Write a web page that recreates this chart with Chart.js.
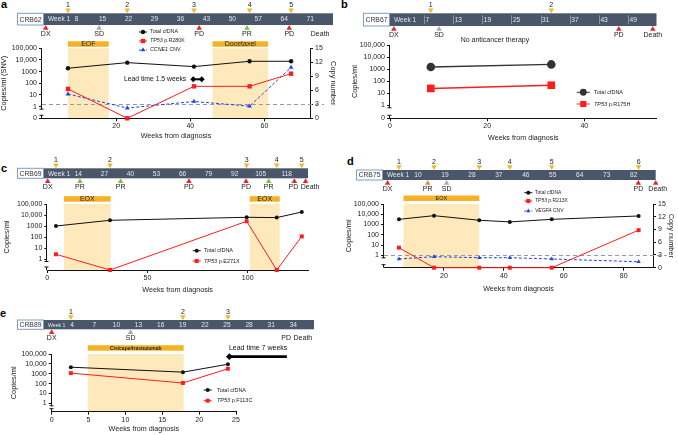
<!DOCTYPE html>
<html>
<head>
<meta charset="utf-8">
<script src="https://cdn.jsdelivr.net/npm/chart.js@4/dist/chart.umd.min.js"></script>
<style>
  html, body { margin: 0; padding: 0; background: #fff; }
  body { width: 678px; height: 435px; position: relative; overflow: hidden; font-family: "Liberation Sans", Arial, sans-serif; }
  canvas { position: absolute; }
  .tag { position: absolute; font-weight: bold; font-size: 11px; line-height: 11px; color: #000; }
</style>
</head>
<body>
<div class="tag" style="left:1px;top:-1px">a</div>
<div class="tag" style="left:341px;top:-1px">b</div>
<div class="tag" style="left:1px;top:163px">c</div>
<div class="tag" style="left:347px;top:156px">d</div>
<div class="tag" style="left:0px;top:308px">e</div>
<script>
const FONT = '"Liberation Sans", Arial, Helvetica, sans-serif';
Chart.defaults.font.family = FONT;
Chart.defaults.font.size = 7;
Chart.defaults.color = '#222';

// shared axis ticks
const logTickValues = [1, 10, 100, 1000, 10000, 100000];
const logTickLabels = ['1', '10', '100', '1000', '10,000', '100,000'];
const copyTicks = [0, 3, 6, 9, 12, 15];

// a - CRB62
const aPatient = 'CRB62';
const aWeeks = [7, 23, 41, 56, 67.2];
const aTotal = [1950, 5900, 2700, 7700, 7700];
const aTp53 = [33, 0, 55, 55, 670];
const aCcne1 = [5.2, 2.2, 3.6, 2.6, 10.9];
const aEventWeeks = [1, 15.4, 42.4, 55.3, 66.7, 74.5];
const aEventLabels = ['DX', 'SD', 'PD', 'PR', 'PD', 'Death'];
const aWeekMarks = [8, 15, 22, 29, 36, 43, 50, 57, 64, 71];
const aTherapy = ['EOF', 'Docetaxel'];
const aTherapyStart = [7, 46];
const aTherapyEnd = [18, 61];
const aLeadWeeks = [40.8, 43.1];
const aLeadLevel = 220;
const aXTicks = [20, 40, 60];

// b - CRB67
const bPatient = 'CRB67';
const bWeeks = [8.4, 33.2];
const bTotal = [1500, 2450];
const bTp53 = [25, 46];
const bEventWeeks = [0.8, 10.1, 47.1, 54.1];
const bEventLabels = ['DX', 'SD', 'PD', 'Death'];
const bWeekMarks = [7, 13, 19, 25, 31, 37, 43, 49];
const bXTicks = [0, 20, 40];

// c - CRB69
const cPatient = 'CRB69';
const cWeeks = [4.3, 31.3, 99.5, 114.5, 127];
const cTotal = [1000, 3300, 6200, 5800, 18700];
const cTp53 = [2.7, 0, 2700, 0, 113];
const cEventWeeks = [0.2, 16.3, 36.6, 70.7, 99.2, 110.5, 123.3, 128.9];
const cEventLabels = ['DX', 'PR', 'PR', 'PD', 'PD', 'PR', 'PD', 'Death'];
const cWeekMarks = [14, 27, 40, 53, 66, 79, 92, 105, 118];
const cTherapy = ['EOX', 'EOX'];
const cTherapyStart = [8.3, 101];
const cTherapyEnd = [31.6, 116];
const cXTicks = [0, 50, 100];

// d - CRB75
const dPatient = 'CRB75';
const dWeeks = [5, 16.7, 31.8, 42, 56, 85];
const dTotal = [3200, 7300, 2600, 1800, 3200, 6800];
const dTp53 = [5.5, 0, 0, 0, 0, 280];
const dVegfa = [2.05, 2.6, 2.35, 2.35, 2.05, 1.4];
const dEventWeeks = [1.2, 14.6, 20.9, 84.9, 90.7];
const dEventLabels = ['DX', 'PR', 'SD', 'PD', 'Death'];
const dWeekMarks = [10, 19, 28, 37, 46, 55, 64, 73, 82];
const dTherapy = ['EOX'];
const dTherapyStart = [6.5];
const dTherapyEnd = [31.8];
const dXTicks = [20, 40, 60, 80];

// e - CRB89
const ePatient = 'CRB89';
const eWeeks = [2.6, 17.8, 23.9];
const eTotal = [4600, 1450, 9100];
const eTp53 = [1150, 115, 3200];
const eEventWeeks = [0, 10.7, 32, 33.8];
const eEventLabels = ['DX', 'SD', 'PD', 'Death'];
const eWeekMarks = [4, 7, 10, 13, 16, 19, 22, 25, 28, 31, 34];
const eTherapy = ['Cis/cape/trastuzumab'];
const eTherapyStart = [4.9];
const eTherapyEnd = [17.9];
const eLeadWeeks = [24.1, 31.9];
const eLeadLevel = 54000;
const eXTicks = [0, 5, 10, 15, 20, 25];

// series styles
const BLACK = '#111', RED = '#ff1c1c', BLUE = '#2040ee';
const totalStyle = { name: ['', 'Total cfDNA'], color: BLACK, pointStyle: 'circle', radius: 2.2 };
const tp53Style = { color: RED, pointStyle: 'rect', radius: 3.1 };
const cnvStyle = { color: BLUE, pointStyle: 'triangle', radius: 2.7, dash: [3, 2], axis: 'y2' };

const panels = [
  {
    box: { x: 0, y: 26, w: 340, h: 116 }, area: { l: 42, t: 48.3, r: 310, b: 118.3 },
    xMax: 72.3, zero: -1, zeroLabel: true, xTicks: aXTicks,
    yTitle: 'Copies/ml (SNV)', yTitlePad: 0, y2Title: 'Copy number', y2TitlePad: 2.8, xTitlePad: 1.8,
    series: [
      { ...totalStyle, weeks: aWeeks, values: aTotal },
      { ...tp53Style, name: ['TP53', ' p.R280K'], weeks: aWeeks, values: aTp53 },
      { ...cnvStyle, name: ['CCNE1', ' CNV'], weeks: aWeeks, values: aCcne1 }
    ],
    therapy: { names: aTherapy, start: aTherapyStart, end: aTherapyEnd, size: 7, gap: 1.5 },
    lead: { weeks: aLeadWeeks, level: aLeadLevel, text: 'Lead time 1.5 weeks', align: 'right', dx: -4, dy: 0, size: 6.8, width: 2, radius: 3 },
    cnLine: 3,
    legend: { x: 143, tx: 150, ys: [32, 41, 50], half: 4, size: 5.3, scale: 1 },
    tl: { y0: 0, h: 42, barTop: 13.3, barBottom: 25, barLeft: 17, barRight: 333, patient: aPatient,
          marks: aWeekMarks, markDx: 5, samples: aWeeks, events: aEventWeeks, labels: aEventLabels,
          labelDx: [0, 0, 0, 0, 0, 2] }
  },
  {
    box: { x: 340, y: 36, w: 338, h: 107 }, area: { l: 390, t: 45, r: 656.7, b: 118.3 },
    xMax: 54.9, zero: -1.08, zeroLabel: true, xTicks: bXTicks,
    yTitle: 'Copies/ml', yTitlePad: 10.8, xTitlePad: 0.8,
    series: [
      { ...totalStyle, color: '#333', radius: 4.3, width: 1.4, weeks: bWeeks, values: bTotal },
      { ...tp53Style, name: ['TP53', ' p.R175H'], radius: 5.4, width: 1.4, weeks: bWeeks, values: bTp53 }
    ],
    note: { text: 'No anticancer therapy', week: 21.6, y: 40, size: 7 },
    legend: { x: 583.3, tx: 594, ys: [92.3, 104], half: 6.5, size: 5.5, scale: 0.8 },
    tl: { y0: 0, h: 42, barTop: 13.3, barBottom: 26, barLeft: 363, barRight: 656.5, patient: bPatient,
          marks: bWeekMarks, markDx: 1.5, tickMarks: true, samples: bWeeks, events: bEventWeeks, labels: bEventLabels }
  },
  {
    box: { x: 0, y: 190, w: 340, h: 105 }, area: { l: 47.3, t: 204, r: 308, b: 270 },
    xMax: 130.1, zero: -1, zeroLabel: false, xTicks: cXTicks,
    yTitle: 'Copies/ml', yTitlePad: 2.8, xTitlePad: 0.8,
    series: [
      { ...totalStyle, radius: 2, weeks: cWeeks, values: cTotal },
      { ...tp53Style, name: ['TP53', ' p.E271X'], radius: 2.8, weeks: cWeeks, values: cTp53 }
    ],
    therapy: { names: cTherapy, start: cTherapyStart, end: cTherapyEnd, size: 7, gap: 2.3 },
    legend: { x: 196.7, tx: 204, ys: [250.7, 261], half: 4, size: 5.5, scale: 1 },
    tl: { y0: 150, h: 45, barTop: 168.3, barBottom: 178.3, barLeft: 17, barRight: 308, patient: cPatient,
          marks: cWeekMarks, markDx: 3, samples: cWeeks, events: cEventWeeks, labels: cEventLabels,
          labelDx: [0, 0, 0, 0, 0, 0, -1, 4.5] }
  },
  {
    box: { x: 340, y: 186, w: 338, h: 109 }, area: { l: 384, t: 204, r: 653, b: 267.7 },
    xMax: 89.8, zero: -1.21, zeroLabel: false, xTicks: dXTicks,
    yTitle: 'Copies/ml', yTitlePad: 4.8, y2Title: 'Copy number', y2TitlePad: 2.1, xTitlePad: 1.8,
    series: [
      { ...totalStyle, radius: 2, weeks: dWeeks, values: dTotal },
      { ...tp53Style, name: ['TP53', ' p.R213X'], radius: 2.8, weeks: dWeeks, values: dTp53 },
      { ...cnvStyle, name: ['VEGFA', ' CNV'], radius: 2.5, weeks: dWeeks, values: dVegfa }
    ],
    therapy: { names: dTherapy, start: dTherapyStart, end: dTherapyEnd, size: 5.5, gap: 3 },
    cnLine: 3,
    legend: { x: 528.3, tx: 535, ys: [192.7, 201, 211], half: 4, size: 5, scale: 1 },
    tl: { y0: 150, h: 45, barTop: 170, barBottom: 180, barLeft: 356, barRight: 655.7, patient: dPatient,
          marks: dWeekMarks, markDx: 4, prColor: '#f08a3a', samples: dWeeks, events: dEventWeeks, labels: dEventLabels,
          labelDx: [0, 0, 0, 0, 2] }
  },
  {
    box: { x: 0, y: 340, w: 340, h: 95 }, area: { l: 51.7, t: 354, r: 236, b: 411.7 },
    xMax: 25, zero: -0.85, zeroLabel: false, xTicks: eXTicks,
    yTitle: 'Copies/ml', yTitlePad: 9.8, xTitlePad: 1.8,
    series: [
      { ...totalStyle, radius: 2, weeks: eWeeks, values: eTotal },
      { ...tp53Style, name: ['TP53', ' p.F113C'], radius: 2.8, weeks: eWeeks, values: eTp53 }
    ],
    therapy: { names: eTherapy, start: eTherapyStart, end: eTherapyEnd, size: 5, gap: 3.3, bold: true },
    lead: { weeks: eLeadWeeks, level: eLeadLevel, text: 'Lead time 7 weeks', align: 'center', dx: 0, dy: -8.4, size: 7, width: 2.6, radius: 3.4 },
    legend: { x: 207.7, tx: 217, ys: [390, 400.7], half: 4, size: 5.5, scale: 1 },
    tl: { y0: 300, h: 45, barTop: 320, barBottom: 329.3, barLeft: 17, barRight: 314, patient: ePatient,
          marks: eWeekMarks, markDx: -9, weekSize: 5.2, samples: eWeeks, events: eEventWeeks, labels: eEventLabels,
          labelDx: [0, 0, -1.5, 2] }
  }
];

function addCanvas(b) {
  const c = document.createElement('canvas');
  c.width = b.w; c.height = b.h;
  c.style.left = b.x + 'px'; c.style.top = b.y + 'px';
  c.style.width = b.w + 'px'; c.style.height = b.h + 'px';
  document.body.appendChild(c);
  return c;
}

function drawMark(ctx, style, r, x, y) {
  ctx.beginPath();
  if (style === 'circle') ctx.arc(x, y, r, 0, Math.PI * 2);
  else if (style === 'rect') { const s = r * Math.SQRT1_2; ctx.rect(x - s, y - s, 2 * s, 2 * s); }
  else if (style === 'triangle') { ctx.moveTo(x, y - r); ctx.lineTo(x + r * 0.866, y + r / 2); ctx.lineTo(x - r * 0.866, y + r / 2); ctx.closePath(); }
  ctx.fill();
}

// ---------- timeline strip ----------
function timelineChart(P) {
  const T = P.tl;
  const box = { x: P.box.x, y: T.y0, w: P.box.w, h: T.h };
  const r = 3.2;
  const sampleY = T.barTop - r, eventY = T.barBottom + r;
  const evColor = lab => lab === 'SD' ? '#a9abae' : lab === 'PR' ? (T.prColor || '#7dc243') : '#e8242c';

  const strip = {
    id: 'strip',
    beforeDatasetsDraw(chart) {
      const { ctx, scales: { x } } = chart;
      const top = T.barTop - box.y, bot = T.barBottom - box.y, mid = (top + bot) / 2;
      const xs = T.barLeft - box.x, xe = T.barRight - box.x;
      ctx.save();
      ctx.fillStyle = '#4a566a';
      ctx.fillRect(xs, top, xe - xs, bot - top);
      ctx.fillStyle = '#fff';
      ctx.fillRect(xs, top - 0.5, 27, bot - top + 1);
      ctx.strokeStyle = '#7f9ec6'; ctx.lineWidth = 1;
      ctx.strokeRect(xs + 0.5, top, 26, bot - top);
      ctx.textBaseline = 'middle';
      ctx.textAlign = 'center';
      ctx.fillStyle = '#333';
      ctx.font = '6.8px ' + FONT;
      ctx.fillText(T.patient, xs + 13.5, mid + 0.5);
      ctx.fillStyle = '#e3e7ee';
      ctx.textAlign = 'left';
      ctx.font = (T.weekSize || 6.6) + 'px ' + FONT;
      ctx.fillText('Week 1', xs + 31, mid + 0.5);
      ctx.font = '6.6px ' + FONT;
      T.marks.forEach(w => {
        const px = x.getPixelForValue(w);
        if (T.tickMarks) {
          ctx.fillStyle = '#9aa3b0';
          ctx.fillRect(Math.round(px), top + 2, 0.8, bot - top - 4);
          ctx.fillStyle = '#e3e7ee';
          ctx.textAlign = 'left';
          ctx.fillText(String(w), px + T.markDx, mid + 0.5);
        } else {
          ctx.textAlign = 'center';
          ctx.fillText(String(w), px + T.markDx, mid + 0.5);
        }
      });
      ctx.restore();
    },
    afterDatasetsDraw(chart) {
      const { ctx, scales: { x } } = chart;
      ctx.save();
      ctx.textAlign = 'center'; ctx.textBaseline = 'middle'; ctx.fillStyle = '#222';
      ctx.font = '7px ' + FONT;
      T.samples.forEach((w, i) => ctx.fillText(String(i + 1), x.getPixelForValue(w), T.barTop - 8 - box.y));
      ctx.font = '7px ' + FONT;
      T.events.forEach((w, i) => {
        const dx = T.labelDx ? T.labelDx[i] : 0;
        ctx.fillText(T.labels[i], x.getPixelForValue(w) + dx, T.barBottom + 8.7 - box.y);
      });
      ctx.restore();
    }
  };

  new Chart(addCanvas(box), {
    type: 'scatter',
    data: {
      datasets: [
        { data: T.samples.map(w => ({ x: w, y: 1 })), pointStyle: 'triangle', pointRotation: 180, pointRadius: r,
          pointBackgroundColor: '#f7b52a', pointBorderWidth: 0, clip: false },
        { data: T.events.map(w => ({ x: w, y: -1 })), pointStyle: 'triangle', pointRadius: r,
          pointBackgroundColor: T.labels.map(evColor), pointBorderWidth: 0, clip: false }
      ]
    },
    options: {
      responsive: false, animation: false, events: [],
      layout: { padding: { left: P.area.l - box.x, right: box.x + box.w - P.area.r, top: sampleY - box.y, bottom: box.y + box.h - eventY } },
      scales: {
        x: { type: 'linear', display: false, min: 0, max: P.xMax },
        y: { type: 'linear', display: false, min: -1, max: 1 }
      },
      plugins: { legend: { display: false }, tooltip: { enabled: false } }
    },
    plugins: [strip]
  });
}

// ---------- cfDNA plot ----------
function plotChart(P) {
  const toY = v => (v > 0 ? Math.log10(v) : P.zero);
  const yVals = (P.zeroLabel ? [P.zero] : []).concat(logTickValues.map(toY));
  const yLabs = (P.zeroLabel ? ['0'] : []).concat(logTickLabels);
  const B = P.box, A = P.area;

  const datasets = P.series.map(s => ({
    type: 'line',
    label: s.name.join(''),
    nameParts: s.name,
    legendMark: s.pointStyle,
    data: s.weeks.map((w, i) => ({ x: w, y: s.axis === 'y2' ? s.values[i] : toY(s.values[i]) })),
    yAxisID: s.axis || 'y',
    borderColor: s.color, backgroundColor: s.color,
    borderWidth: s.width || 1, borderDash: s.dash || [],
    pointStyle: s.pointStyle, pointRadius: s.radius,
    pointBackgroundColor: s.color, pointBorderWidth: 0,
    clip: false
  }));
  if (P.lead) {
    datasets.push({
      type: 'line', label: 'lead',
      data: P.lead.weeks.map(w => ({ x: w, y: toY(P.lead.level) })),
      yAxisID: 'y', borderColor: '#000', backgroundColor: '#000', borderWidth: P.lead.width,
      pointStyle: 'rectRot', pointRadius: P.lead.radius, pointBackgroundColor: '#000', pointBorderWidth: 0, clip: false
    });
  }

  const axisCol = '#111';
  const scales = {
    x: {
      type: 'linear', min: 0, max: P.xMax,
      border: { color: axisCol, width: 1 },
      grid: { drawOnChartArea: false, tickLength: 3, color: axisCol },
      ticks: { padding: 1, maxRotation: 0, autoSkip: false, color: '#222' },
      afterBuildTicks: s => { s.ticks = P.xTicks.map(v => ({ value: v })); },
      title: { display: true, text: 'Weeks from diagnosis', font: { size: 7.2 }, color: '#222', padding: { top: 0, bottom: P.xTitlePad } },
      afterFit: s => { s.height = B.y + B.h - A.b; s.paddingLeft = 0; s.paddingRight = 0; }
    },
    y: {
      type: 'linear', position: 'left', min: P.zero, max: 5,
      border: { display: false },
      grid: { drawOnChartArea: false, tickLength: 3, color: axisCol },
      ticks: { padding: 2, autoSkip: false, color: '#222', callback: (v, i) => yLabs[i] },
      afterBuildTicks: s => { s.ticks = yVals.map(v => ({ value: v })); },
      title: { display: true, text: P.yTitle, font: { size: 7.4 }, color: '#222', padding: { top: P.yTitlePad, bottom: 0 } },
      afterFit: s => { s.width = A.l - B.x; s.paddingTop = 0; s.paddingBottom = 0; }
    }
  };
  if (P.y2Title) {
    scales.y2 = {
      type: 'linear', position: 'right', min: 0, max: 15,
      border: { color: axisCol, width: 1 },
      grid: { drawOnChartArea: false, tickLength: 3, color: axisCol },
      ticks: { padding: 2, autoSkip: false, color: '#222' },
      afterBuildTicks: s => { s.ticks = copyTicks.map(v => ({ value: v })); },
      title: { display: true, text: P.y2Title, font: { size: 7.4 }, color: '#222', padding: { top: P.y2TitlePad, bottom: 0 } },
      afterFit: s => { s.width = B.x + B.w - A.r; s.paddingTop = 0; s.paddingBottom = 0; }
    };
  }

  const decor = {
    id: 'decor',
    beforeDraw(chart) {
      const { ctx, chartArea: ca, scales: { x } } = chart;
      if (!P.therapy) return;
      const th = P.therapy;
      ctx.save();
      th.names.forEach((name, i) => {
        const x0 = x.getPixelForValue(th.start[i]), x1 = x.getPixelForValue(th.end[i]);
        ctx.fillStyle = '#fde9bb';
        ctx.fillRect(x0, ca.top, x1 - x0, ca.bottom - ca.top);
        ctx.fillStyle = '#f6b224';
        ctx.fillRect(x0, ca.top - th.gap - 5.5, x1 - x0, 5.5);
        ctx.fillStyle = '#222';
        ctx.font = (th.bold ? 'bold ' : '') + th.size + 'px ' + FONT;
        ctx.textAlign = 'center'; ctx.textBaseline = 'middle';
        ctx.fillText(name, (x0 + x1) / 2, ca.top - th.gap - 2.5);
      });
      ctx.restore();
    },
    beforeDatasetsDraw(chart) {
      if (P.cnLine === undefined) return;
      const { ctx, chartArea: ca, scales: { y2 } } = chart;
      const yy = Math.round(y2.getPixelForValue(P.cnLine)) + 0.5;
      ctx.save();
      ctx.strokeStyle = '#9a9a9a'; ctx.lineWidth = 1; ctx.setLineDash([4, 3]);
      ctx.beginPath(); ctx.moveTo(ca.left, yy); ctx.lineTo(ca.right + 14, yy); ctx.stroke();
      ctx.restore();
    },
    afterDatasetsDraw(chart) {
      const { ctx, chartArea: ca, scales: { x, y } } = chart;
      ctx.save();
      // broken log axis
      const ax = Math.round(ca.left) - 0.5;
      const yTop = y.getPixelForValue(5), yOne = y.getPixelForValue(0), yZero = y.getPixelForValue(P.zero);
      ctx.strokeStyle = axisCol; ctx.lineWidth = 1;
      ctx.beginPath();
      ctx.moveTo(ax, yTop); ctx.lineTo(ax, yOne + 2.5);
      ctx.moveTo(ax - 2, yOne + 2.5); ctx.lineTo(ax + 2, yOne + 2.5);
      ctx.moveTo(ax - 2, yZero - 3); ctx.lineTo(ax + 2, yZero - 3);
      ctx.moveTo(ax, yZero - 3); ctx.lineTo(ax, yZero);
      ctx.stroke();

      // legend
      const L = P.legend;
      ctx.textBaseline = 'middle';
      chart.data.datasets.filter(d => d.nameParts).forEach((d, i) => {
        const ly = L.ys[i] - B.y, lx = L.x - B.x;
        ctx.strokeStyle = d.borderColor; ctx.lineWidth = 1;
        ctx.setLineDash(d.borderDash && d.borderDash.length ? [2, 1.5] : []);
        ctx.beginPath(); ctx.moveTo(lx - L.half, ly); ctx.lineTo(lx + L.half, ly); ctx.stroke();
        ctx.setLineDash([]);
        ctx.fillStyle = d.borderColor;
        drawMark(ctx, d.legendMark, d.pointRadius * L.scale, lx, ly);
        ctx.fillStyle = '#222'; ctx.textAlign = 'left';
        let tx = L.tx - B.x;
        const [it, rest] = d.nameParts;
        if (it) { ctx.font = 'italic ' + L.size + 'px ' + FONT; ctx.fillText(it, tx, ly); tx += ctx.measureText(it).width; }
        ctx.font = L.size + 'px ' + FONT;
        ctx.fillText(rest, tx, ly);
      });

      // lead-time caption
      if (P.lead) {
        const ld = P.lead;
        const ly = y.getPixelForValue(toY(ld.level));
        const x0 = x.getPixelForValue(ld.weeks[0]), x1 = x.getPixelForValue(ld.weeks[1]);
        ctx.fillStyle = '#111';
        ctx.font = ld.size + 'px ' + FONT;
        ctx.textAlign = ld.align;
        const tx = ld.align === 'right' ? x0 - ld.radius + ld.dx : (x0 + x1) / 2 + ld.dx;
        ctx.fillText(ld.text, tx, ly + ld.dy);
      }
      if (P.note) {
        ctx.fillStyle = '#222';
        ctx.font = P.note.size + 'px ' + FONT;
        ctx.textAlign = 'center';
        ctx.fillText(P.note.text, x.getPixelForValue(P.note.week), P.note.y - B.y);
      }
      ctx.restore();
    }
  };

  new Chart(addCanvas(B), {
    type: 'line',
    data: { datasets },
    options: {
      responsive: false, animation: false, events: [],
      layout: { padding: { top: A.t - B.y, left: 0, bottom: 0, right: P.y2Title ? 0 : B.x + B.w - A.r } },
      scales,
      plugins: { legend: { display: false }, tooltip: { enabled: false } }
    },
    plugins: [decor]
  });
}

panels.forEach(P => { timelineChart(P); plotChart(P); });
</script>
</body>
</html>
